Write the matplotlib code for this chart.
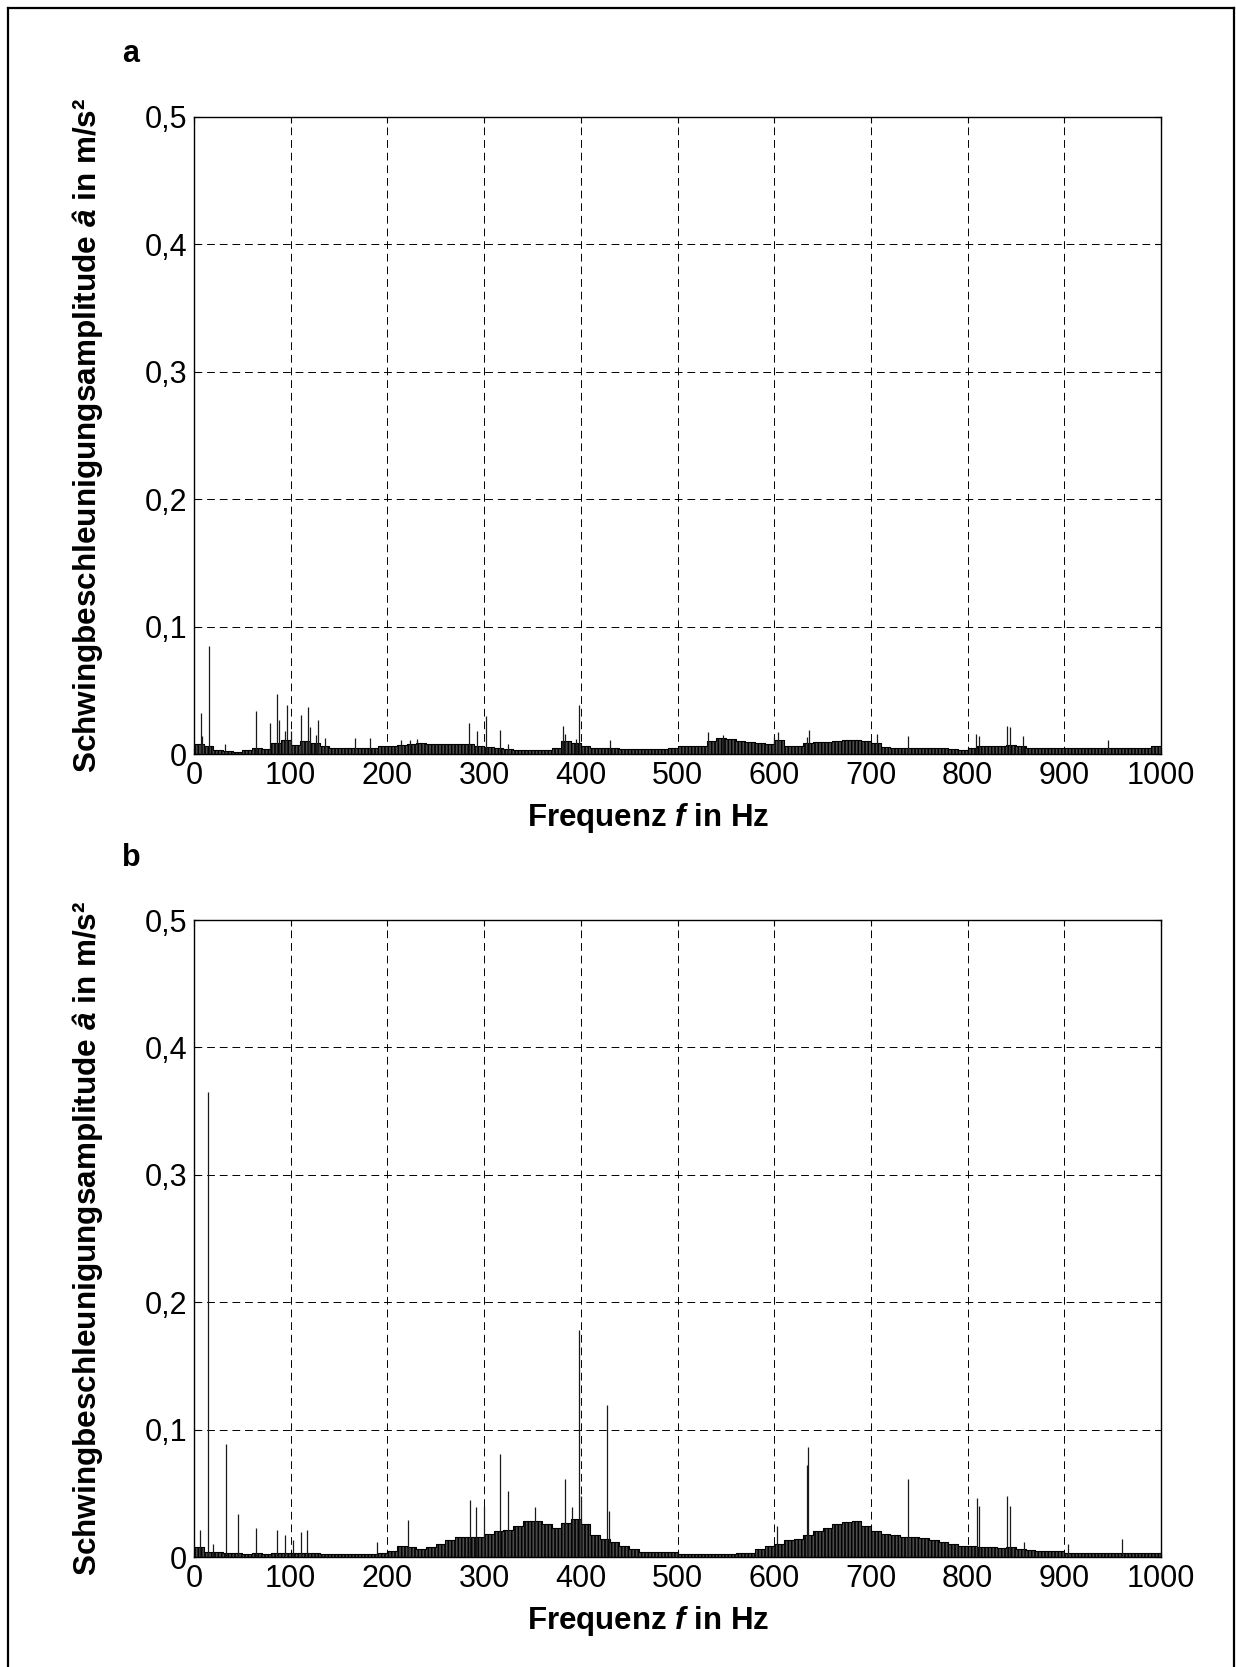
import matplotlib
matplotlib.use("Agg")
import matplotlib.pyplot as plt
from matplotlib.lines import Line2D

plt.rcParams['font.family'] = ['Liberation Sans', 'DejaVu Sans']
plt.rcParams['mathtext.fontset'] = 'custom'
plt.rcParams['mathtext.bf'] = 'Liberation Sans:bold:italic'
plt.rcParams['mathtext.rm'] = 'Liberation Sans:bold'
plt.rcParams['hatch.linewidth'] = 1.2

# 10 Hz bands: level of the dense noise floor
band_start_hz = list(range(0, 1000, 10))
band_a = [0.008, 0.006, 0.003, 0.002, 0.0015, 0.003, 0.005, 0.004, 0.009, 0.011,
          0.007, 0.010, 0.009, 0.006, 0.005, 0.005, 0.005, 0.005, 0.005, 0.006,
          0.0065, 0.007, 0.0075, 0.0085, 0.008, 0.008, 0.008, 0.0075, 0.008, 0.0065,
          0.0055, 0.005, 0.004, 0.003, 0.003, 0.003, 0.003, 0.005, 0.010, 0.009,
          0.006, 0.005, 0.005, 0.0045, 0.004, 0.004, 0.004, 0.004, 0.004, 0.0045,
          0.006, 0.0065, 0.0065, 0.010, 0.0125, 0.012, 0.010, 0.0095, 0.0085, 0.008,
          0.011, 0.0065, 0.0065, 0.009, 0.0095, 0.0095, 0.0105, 0.011, 0.011, 0.010,
          0.009, 0.0055, 0.005, 0.005, 0.0047, 0.0047, 0.0047, 0.0045, 0.004, 0.0034,
          0.005, 0.0065, 0.0065, 0.0065, 0.007, 0.006, 0.005, 0.0047, 0.0045, 0.0045,
          0.0047, 0.0045, 0.0045, 0.0045, 0.005, 0.0045, 0.0045, 0.0045, 0.005, 0.006]
band_b = [0.0078, 0.004, 0.004, 0.003, 0.003, 0.0026, 0.003, 0.0026, 0.003, 0.0035,
          0.003, 0.0035, 0.003, 0.0026, 0.0026, 0.0026, 0.0026, 0.0026, 0.0026, 0.003,
          0.005, 0.009, 0.0078, 0.0065, 0.0078, 0.010, 0.0137, 0.0155, 0.0155, 0.016,
          0.018, 0.0207, 0.0215, 0.0245, 0.028, 0.028, 0.026, 0.023, 0.0265, 0.030,
          0.026, 0.017, 0.014, 0.0116, 0.009, 0.006, 0.004, 0.004, 0.004, 0.004,
          0.0026, 0.0026, 0.0026, 0.0026, 0.0026, 0.0026, 0.0034, 0.0034, 0.006, 0.009,
          0.010, 0.013, 0.014, 0.017, 0.0207, 0.023, 0.026, 0.0275, 0.028, 0.0245,
          0.0207, 0.018, 0.017, 0.016, 0.0155, 0.0147, 0.013, 0.0116, 0.010, 0.009,
          0.009, 0.0078, 0.0078, 0.007, 0.0078, 0.0065, 0.0057, 0.0044, 0.0044, 0.0044,
          0.0034, 0.0034, 0.0034, 0.0034, 0.0034, 0.0034, 0.0034, 0.0034, 0.0034, 0.0034]

# single spectral lines sticking out of the floor
peak_f_a = [7, 8.6, 15.2, 32, 64.5, 79, 86, 88, 94, 96.5, 100, 111, 118, 120, 126.5,
            128.6, 135, 167, 182, 214, 223, 231, 284, 293, 302, 316.5, 325, 382,
            384, 395, 398, 430, 532, 547, 600, 604, 634, 635.5, 706.7, 738.5, 809,
            811.5, 841, 843.5, 857.6, 945.7]
peak_a_a = [0.032, 0.014, 0.085, 0.008, 0.034, 0.024, 0.047, 0.027, 0.018, 0.0385,
            0.018, 0.031, 0.037, 0.021, 0.015, 0.027, 0.0125, 0.0125, 0.0125, 0.011,
            0.011, 0.012, 0.024, 0.018, 0.03, 0.019, 0.008, 0.022, 0.016, 0.012,
            0.0385, 0.011, 0.017, 0.0146, 0.014, 0.017, 0.013, 0.019, 0.016, 0.014,
            0.016, 0.014, 0.022, 0.021, 0.014, 0.0107]
peak_f_b = [6.5, 14.7, 19.5, 32.6, 46, 64, 86, 94.5, 102, 111, 117, 189, 221.5, 285,
            291.5, 300, 316, 325, 353, 383.5, 391, 398, 400.6, 427.5, 429, 603, 633.5,
            635, 738.6, 809.5, 812, 841, 843.6, 858, 904, 960]
peak_a_b = [0.021, 0.365, 0.010, 0.089, 0.034, 0.023, 0.021, 0.017, 0.013, 0.020,
            0.021, 0.012, 0.029, 0.045, 0.039, 0.040, 0.081, 0.052, 0.039, 0.0615,
            0.039, 0.178, 0.048, 0.119, 0.036, 0.0245, 0.072, 0.0865, 0.061, 0.046,
            0.040, 0.048, 0.040, 0.0116, 0.010, 0.014]

y_ticks = [0, 0.1, 0.2, 0.3, 0.4, 0.5]
y_tick_labels = ['0', '0,1', '0,2', '0,3', '0,4', '0,5']
x_ticks = [0, 100, 200, 300, 400, 500, 600, 700, 800, 900, 1000]

W, H = 1236, 1667
fig = plt.figure(figsize=(W / 100, H / 100), dpi=100)


def px_box(left, top, right, bottom):
    return [left / W, 1 - bottom / H, (right - left) / W, (bottom - top) / H]


def draw_panel(ax, band, peak_f, peak_a):
    edges = band_start_hz + [1000]
    level = band + [band[-1]]
    ax.fill_between(edges, 0, level, step='post', facecolor='0.3',
                    edgecolor='black', hatch='|||||', linewidth=0.8, zorder=2)
    ax.vlines(peak_f, 0, peak_a, colors='0.1', linewidth=0.9, zorder=3)
    ax.set_xlim(0, 1000)
    ax.set_ylim(0, 0.5)
    ax.set_xticks(x_ticks)
    ax.set_xticklabels([str(t) for t in x_ticks])
    ax.set_yticks(y_ticks)
    ax.set_yticklabels(y_tick_labels)
    ax.grid(True, color='black', linewidth=0.7, linestyle=(0, (8, 5)))
    ax.set_axisbelow(True)
    ax.tick_params(direction='in', length=4, width=0.8, labelsize=22,
                   top=True, right=True, pad=5)
    for sp in ax.spines.values():
        sp.set_linewidth(1.0)
    ax.set_xlabel(r'Frequenz $\mathbf{f}$ in Hz', fontsize=22.5, fontweight='bold')
    ax.xaxis.set_label_coords(0.47, -0.101)
    ax.xaxis.label.set_va('center')
    ax.set_ylabel(r'Schwingbeschleunigungsamplitude $\mathbf{â}$ in m/s²',
                  fontsize=22.7, fontweight='bold')
    ax.yaxis.set_label_coords(-0.11, 0.5)
    ax.yaxis.label.set_va('center')


ax_a = fig.add_axes(px_box(194, 117, 1161, 754))
draw_panel(ax_a, band_a, peak_f_a, peak_a_a)
ax_b = fig.add_axes(px_box(194, 920, 1161, 1557))
draw_panel(ax_b, band_b, peak_f_b, peak_a_b)

fig.text(131 / W, 1 - 62 / H, 'a', fontsize=22, fontweight='bold', ha='center', va='baseline')
fig.text(131 / W, 1 - 866 / H, 'b', fontsize=22, fontweight='bold', ha='center', va='baseline')

# frame round the whole figure (open at the bottom)
bx0, bx1, by0 = 8 / W, 1234 / W, 1 - 8 / H
for xs, ys in [([bx0, bx1], [by0, by0]), ([bx0, bx0], [by0, 0]), ([bx1, bx1], [by0, 0])]:
    fig.add_artist(Line2D(xs, ys, color='black', linewidth=1.6, transform=fig.transFigure))

fig.savefig('out.png', dpi=100)
